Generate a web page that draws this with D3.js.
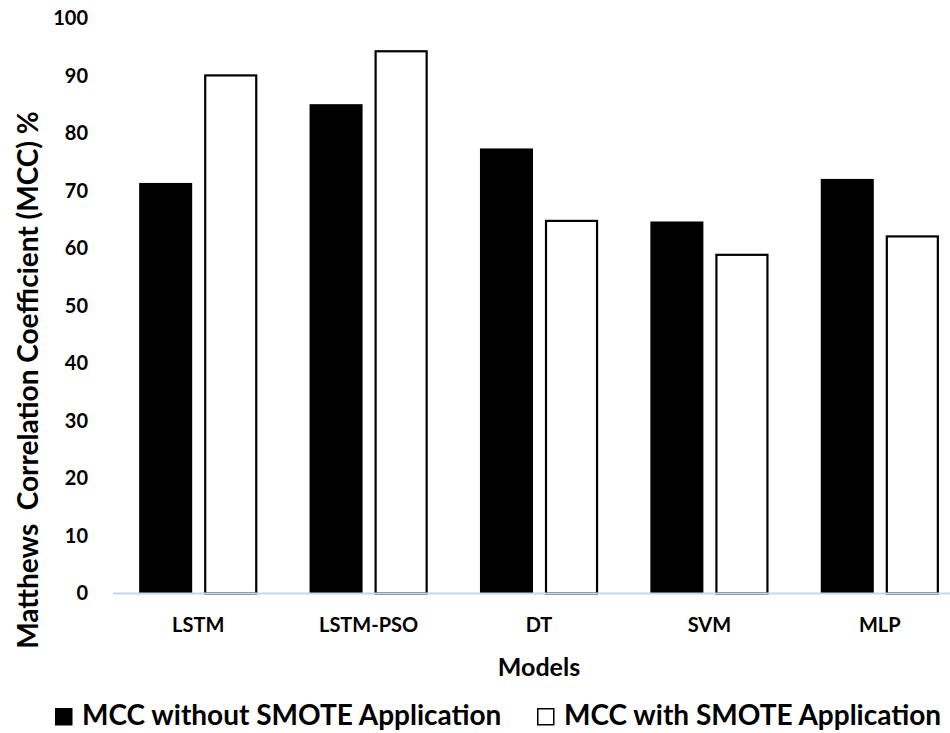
<!DOCTYPE html>
<html>
<head>
<meta charset="utf-8">
<script src="https://cdn.jsdelivr.net/npm/d3@7"></script>
<style>
  body { margin: 0; background: #fff; }
  text { font-family: Lato, "Open Sans", sans-serif; font-weight: bold; fill: #000; }
</style>
</head>
<body>
<div id="chart"></div>
<script>
// data
const models = ["LSTM", "LSTM-PSO", "DT", "SVM", "MLP"];
const series = ["MCC without SMOTE Application", "MCC with SMOTE Application"];
const withoutSmote = [71.4, 85.1, 77.4, 64.7, 72.1];
const withSmote = [90.1, 94.3, 64.8, 58.9, 62.1];
const yTicks = [0, 10, 20, 30, 40, 50, 60, 70, 80, 90, 100];

const width = 950;
const height = 733;
const margin = { top: 18.5, left: 113, bottom: 139.5 };
const plotRight = 965; // last group runs past the crop edge

const rows = models.map((m, i) => ({ model: m, values: [withoutSmote[i], withSmote[i]] }));

const svg = d3.select("#chart")
  .append("svg")
    .attr("width", width)
    .attr("height", height);

// scales
const x0 = d3.scaleBand()
  .domain(models)
  .range([margin.left, plotRight])
  .paddingInner(0.307)
  .paddingOuter(0.1535);

const x1 = d3.scaleBand()
  .domain([0, 1])
  .range([0, x0.bandwidth()])
  .paddingInner(0.185);

const y = d3.scaleLinear()
  .domain([0, 100])
  .range([height - margin.bottom, margin.top]);

// y tick labels (no axis line, no ticks)
const yAxis = svg.append("g")
  .attr("transform", `translate(${margin.left - 25},0)`)
  .call(d3.axisLeft(y).tickValues(yTicks).tickSize(0).tickPadding(0));
yAxis.select(".domain").remove();
yAxis.selectAll("text")
  .style("font-family", "Lato, sans-serif")
  .style("font-weight", "bold")
  .style("font-size", "20px")
  .attr("fill", "#000");

// bars
const groups = svg.append("g")
  .selectAll("g")
  .data(rows)
  .join("g")
    .attr("transform", d => `translate(${x0(d.model)},0)`);

groups.selectAll("rect")
  .data(d => d.values.map((v, k) => ({ k, v })))
  .join("rect")
    .attr("x", d => x1(d.k) + (d.k === 1 ? 1 : 0))
    .attr("y", d => y(d.v))
    .attr("width", d => x1.bandwidth() - (d.k === 1 ? 2 : 0))
    .attr("height", d => y(0) - y(d.v))
    .attr("fill", d => d.k === 0 ? "#000" : "#fff")
    .attr("stroke", d => d.k === 0 ? "none" : "#000")
    .attr("stroke-width", 2.2);

// baseline
svg.append("line")
  .attr("x1", margin.left)
  .attr("x2", width)
  .attr("y1", y(0))
  .attr("y2", y(0))
  .attr("stroke", "#c5d6ec")
  .attr("stroke-width", 2);

// x axis labels
const xAxis = svg.append("g")
  .attr("transform", `translate(0,${y(0)})`)
  .call(d3.axisBottom(x0).tickSize(0).tickPadding(24));
xAxis.select(".domain").remove();
xAxis.selectAll("text")
  .style("font-family", "Lato, sans-serif")
  .style("font-weight", "bold")
  .style("font-size", "20px")
  .attr("fill", "#000");

// axis titles
svg.append("text")
  .attr("x", 539)
  .attr("y", 676)
  .attr("text-anchor", "middle")
  .style("font-size", "25px")
  .text("Models");

svg.append("text")
  .attr("transform", `translate(38,380) rotate(-90)`)
  .attr("text-anchor", "middle")
  .style("font-size", "28px")
  .attr("xml:space", "preserve")
  .text("Matthews  Correlation Coefficient (MCC) %");

// legend
const legendX = [55, 537];
const legend = svg.append("g")
  .selectAll("g")
  .data(series)
  .join("g")
    .attr("transform", (d, i) => `translate(${legendX[i]},708)`);

legend.append("rect")
  .attr("x", 0.75)
  .attr("y", 0.75)
  .attr("width", 16)
  .attr("height", 16)
  .attr("fill", (d, i) => i === 0 ? "#000" : "#fff")
  .attr("stroke", "#000")
  .attr("stroke-width", 1.5);

legend.append("text")
  .attr("x", 27)
  .attr("y", 17)
  .style("font-size", "28px")
  .text(d => d);
</script>
</body>
</html>
